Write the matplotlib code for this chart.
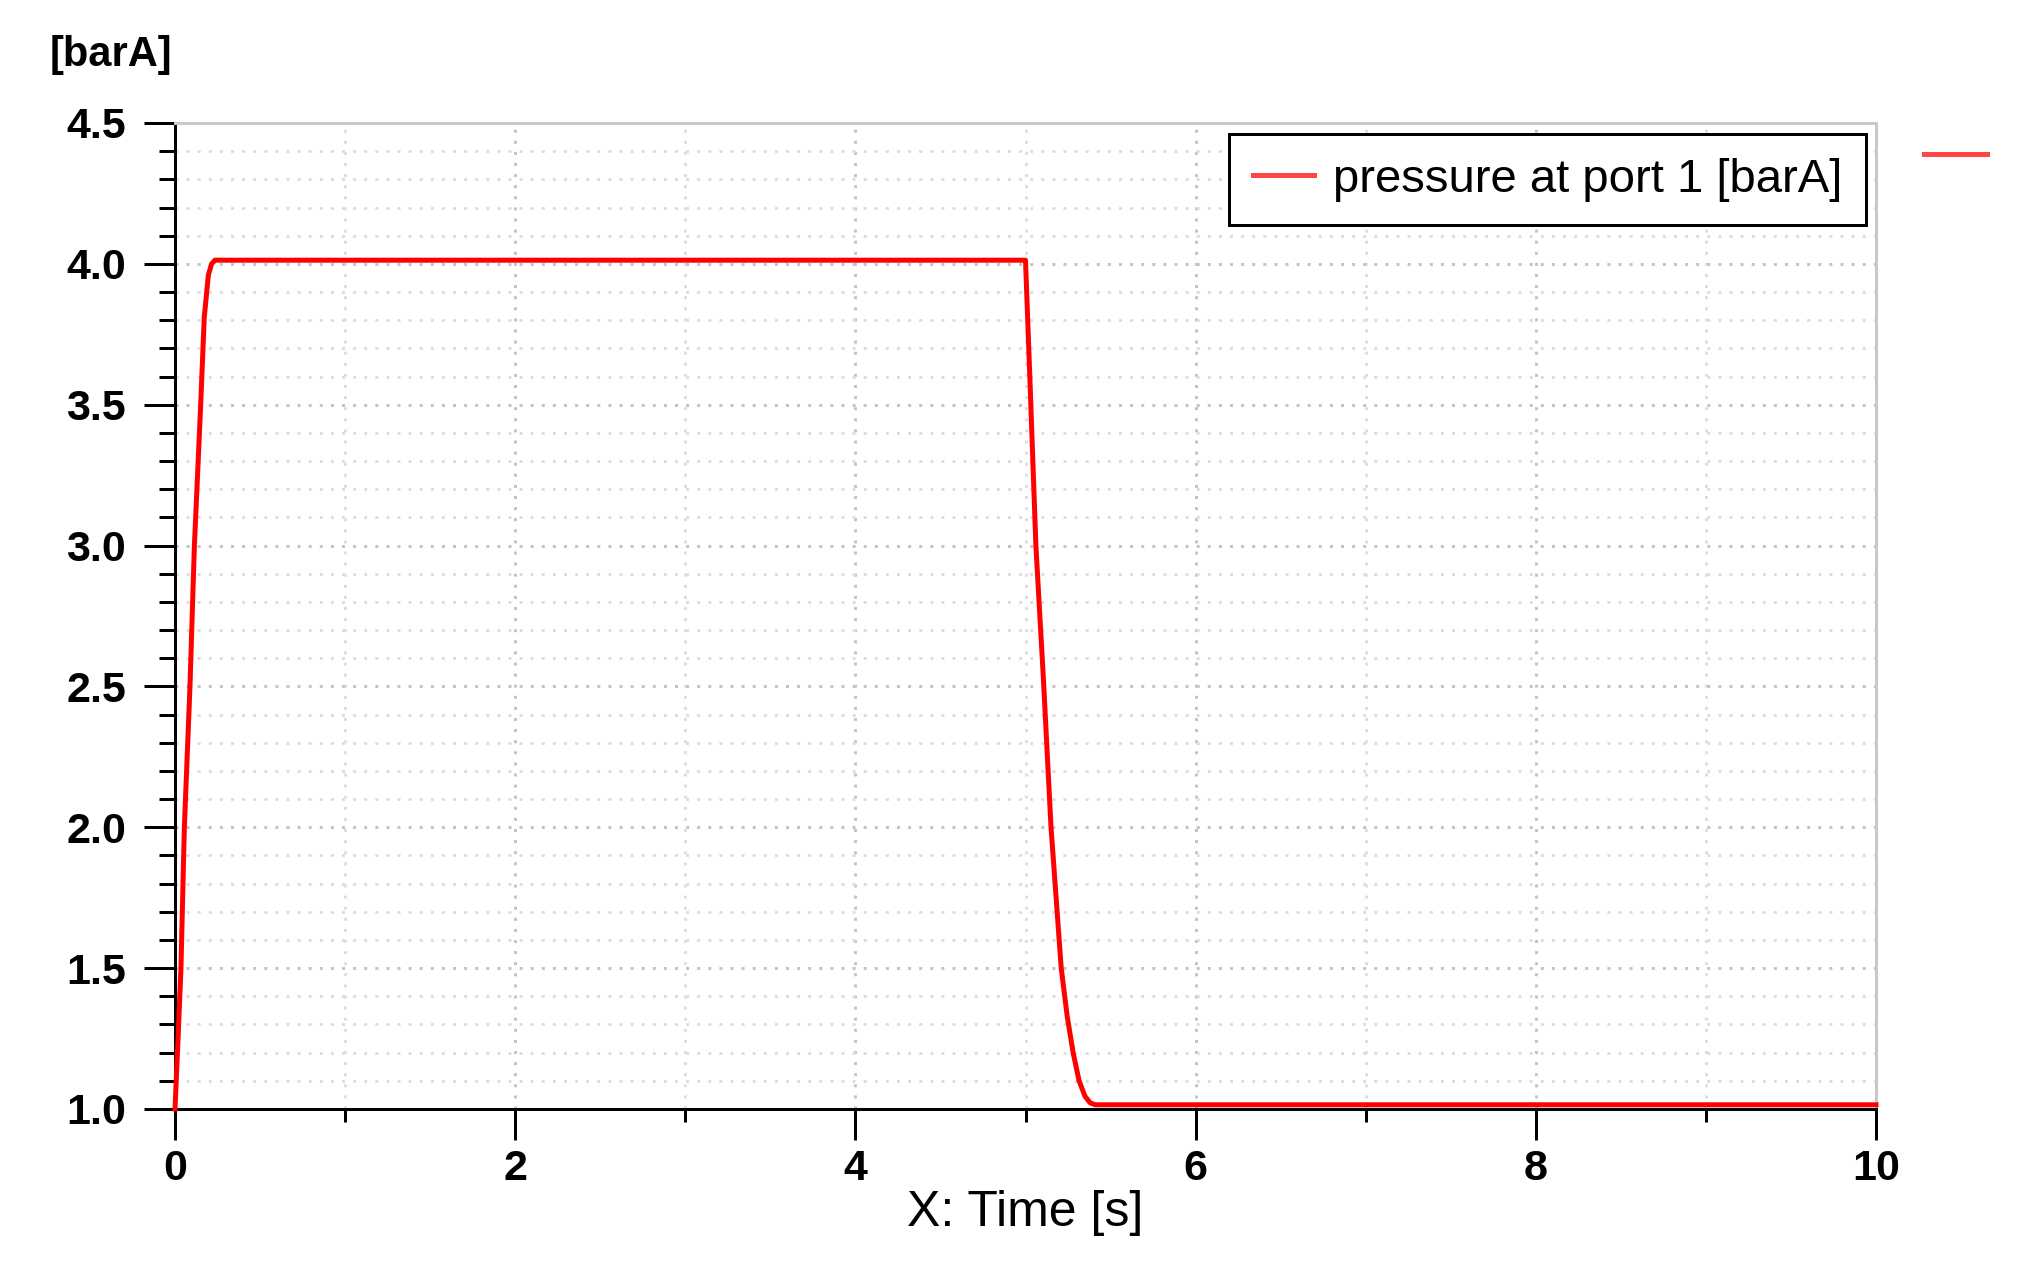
import matplotlib
matplotlib.use("Agg")
import matplotlib.pyplot as plt
from matplotlib.lines import Line2D
from matplotlib.ticker import MultipleLocator
import numpy as np

# ---- data ----
time_s = [0.0, 0.018, 0.035, 0.055, 0.088, 0.114, 0.151, 0.172, 0.196, 0.215, 0.235,
          5.0, 5.026, 5.061, 5.105, 5.15, 5.18, 5.21, 5.245, 5.28, 5.315,
          5.35, 5.38, 5.41, 10.0]
pressure_bara = [1.0, 1.25, 1.5, 2.0, 2.5, 3.0, 3.5, 3.81, 3.96, 4.0, 4.013,
                 4.013, 3.59, 3.0, 2.53, 2.0, 1.75, 1.5, 1.33, 1.2, 1.1,
                 1.045, 1.022, 1.015, 1.015]
series_label = "pressure at port 1 [barA]"
y_unit = "[barA]"
x_label = "X: Time [s]"
x_ticks = [0, 2, 4, 6, 8, 10]
y_ticks = [1.0, 1.5, 2.0, 2.5, 3.0, 3.5, 4.0, 4.5]

W, H = 2019, 1270
DPI = 100
PX = 72.0 / DPI  # points per pixel

fig = plt.figure(figsize=(W / DPI, H / DPI), dpi=DPI)
left, right = 175 / W, 1876 / W
bottom, top = 1 - 1109 / H, 1 - 123 / H
ax = fig.add_axes([left, bottom, right - left, top - bottom])

ax.plot(time_s, pressure_bara, color="#FF0000", lw=5 * PX, zorder=3,
        clip_on=False, solid_joinstyle="round", label=series_label)

ax.set_xlim(0, 10)
ax.set_ylim(1.0, 4.5)
ax.set_xticks(x_ticks)
ax.set_yticks(y_ticks)
ax.xaxis.set_minor_locator(MultipleLocator(1))
ax.yaxis.set_minor_locator(MultipleLocator(0.1))
ax.set_xticklabels([str(v) for v in x_ticks])
ax.set_yticklabels([f"{v:.1f}" for v in y_ticks])

for lab in ax.get_xticklabels() + ax.get_yticklabels():
    lab.set_fontfamily("Liberation Sans")
    lab.set_fontweight("bold")
    lab.set_fontsize(31)

ax.tick_params(axis="both", which="major", direction="out", length=31 * PX,
               width=3 * PX, color="black")
ax.tick_params(axis="y", which="major", pad=18 * PX)
ax.tick_params(axis="x", which="major", pad=9 * PX)
ax.tick_params(axis="y", which="minor", direction="out", length=16 * PX,
               width=3 * PX, color="black")
ax.tick_params(axis="x", which="minor", direction="out", length=13 * PX,
               width=3 * PX, color="black")

for s in ["left", "bottom"]:
    ax.spines[s].set_color("black")
    ax.spines[s].set_linewidth(3 * PX)
for s in ["top", "right"]:
    ax.spines[s].set_color("#C8C8C8")
    ax.spines[s].set_linewidth(3 * PX)

# dotted grids
ax.grid(True, which="major", axis="both", color="#C4C4C4", lw=3 * PX,
        linestyle=(0, (1, 2.7)), zorder=0)
ax.grid(True, which="minor", axis="y", color="#DEDEDE", lw=3 * PX,
        linestyle=(0, (1, 2.7)), zorder=0)
ax.grid(True, which="minor", axis="x", color="#DEDEDE", lw=3 * PX,
        linestyle=(0, (1, 2.7)), zorder=0)
ax.set_axisbelow(True)

ax.set_xlabel(x_label, family="Liberation Sans", fontsize=36, labelpad=1)

fig.text(111 / W, 1 - 55 / H, y_unit, ha="center", va="center",
         family="Liberation Sans", weight="bold", fontsize=30)

leg = ax.legend(loc="upper right",
                bbox_to_anchor=((1866 - 175) / 1701, (1109 - 134) / 986),
                borderaxespad=0, frameon=True, fancybox=False, shadow=False,
                prop=dict(family="Liberation Sans", size=34),
                handlelength=1.3, handletextpad=0.4, borderpad=0.5)
leg.get_frame().set_edgecolor("black")
leg.get_frame().set_linewidth(3 * PX)
leg.get_frame().set_facecolor("white")
leg.get_frame().set_alpha(1)
for ln in leg.get_lines():
    ln.set_color("#FF4545")
    ln.set_linewidth(5 * PX)

# stray legend dash at the far right of the original screenshot
fig.add_artist(Line2D([1924 / W, 1987 / W], [1 - 154 / H, 1 - 154 / H],
                      transform=fig.transFigure, color="#FF4545", lw=5 * PX))

fig.savefig("out.png", dpi=DPI)
